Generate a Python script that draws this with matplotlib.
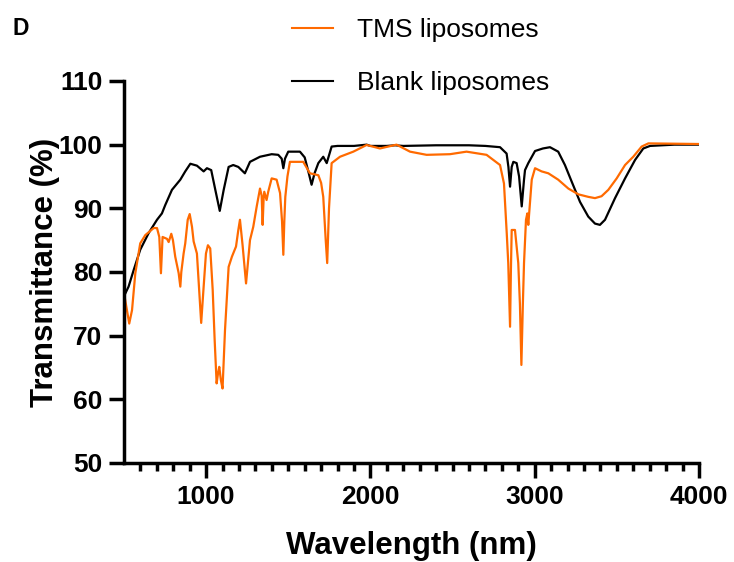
import matplotlib
matplotlib.use('Agg')
import matplotlib.pyplot as plt
from matplotlib.lines import Line2D

# FTIR spectra (wavelength axis as labelled, transmittance %)
blank_x = [500, 504, 528, 559, 599, 650, 701, 731, 751, 792,
           843, 873, 904, 944, 985, 1005, 1031, 1056, 1083, 1107,
           1137, 1165, 1196, 1236, 1267, 1328, 1399, 1439, 1460, 1470,
           1480, 1500, 1571, 1600, 1625, 1642, 1660, 1683, 1713, 1734,
           1764, 1800, 1900, 1977, 2000, 2100, 2150, 2200, 2400, 2600,
           2700, 2789, 2829, 2840, 2850, 2860, 2870, 2890, 2905, 2921,
           2935, 2941, 2961, 3002, 3050, 3093, 3143, 3184, 3225, 3276,
           3326, 3367, 3397, 3428, 3489, 3550, 3611, 3661, 3702, 3850, 4000]
blank_y = [75.5, 76.4, 77.7, 80.3, 83.5, 86.1, 88.2, 89.2, 90.5, 92.9,
           94.5, 95.8, 97.0, 96.7, 95.8, 96.3, 96.0, 92.9, 89.6, 92.9,
           96.5, 96.8, 96.5, 95.5, 97.3, 98.1, 98.5, 98.4, 97.8, 96.3,
           97.8, 98.9, 98.9, 98.0, 95.5, 93.7, 95.5, 97.1, 98.1, 97.1,
           99.7, 99.8, 99.8, 100.0, 99.8, 99.8, 99.9, 99.8, 99.9, 99.9,
           99.8, 99.6, 98.6, 96.5, 93.4, 96.5, 97.3, 97.1, 95.0, 90.3,
           94.5, 96.0, 97.1, 99.0, 99.4, 99.6, 98.9, 96.8, 94.2, 91.0,
           88.7, 87.6, 87.4, 88.2, 91.6, 94.7, 97.6, 99.4, 99.8, 100.0, 100.0]

tms_x = [500, 504, 518, 532, 549, 569, 599, 630, 681, 701,
         715, 725, 735, 762, 772, 788, 798, 812, 833, 843,
         849, 863, 873, 888, 900, 914, 924, 944, 970, 985,
         999, 1011, 1025, 1040, 1052, 1064, 1072, 1080, 1090, 1100,
         1115, 1137, 1157, 1182, 1196, 1206, 1222, 1243, 1267, 1287,
         1308, 1328, 1338, 1344, 1350, 1354, 1368, 1378, 1399, 1429,
         1450, 1462, 1470, 1476, 1482, 1495, 1510, 1591, 1632, 1683,
         1700, 1713, 1728, 1737, 1748, 1764, 1815, 1896, 1977, 2058,
         2159, 2241, 2342, 2484, 2585, 2707, 2748, 2789, 2813, 2830,
         2839, 2850, 2855, 2860, 2880, 2900, 2910, 2919, 2928, 2935,
         2947, 2955, 2961, 2982, 3002, 3042, 3083, 3143, 3205, 3265,
         3326, 3367, 3407, 3448, 3499, 3550, 3600, 3651, 3692, 4000]
tms_y = [76.5, 76.1, 74.0, 71.9, 74.0, 79.8, 84.5, 85.8, 86.9, 86.9,
         85.5, 79.8, 85.5, 85.2, 84.7, 86.0, 85.0, 82.4, 79.8, 77.7,
         80.0, 82.9, 84.5, 88.2, 89.1, 87.1, 84.8, 82.9, 72.0, 77.7,
         82.9, 84.2, 83.7, 77.2, 69.3, 62.5, 64.0, 65.1, 63.0, 61.7,
         70.9, 80.8, 82.4, 84.0, 86.6, 88.2, 84.2, 78.2, 85.0, 87.1,
         90.3, 93.1, 92.0, 87.4, 91.5, 92.6, 91.3, 92.6, 94.7, 94.5,
         92.4, 88.0, 82.7, 88.0, 91.8, 95.0, 97.3, 97.3, 95.5, 95.2,
         94.0, 91.8, 85.0, 81.4, 90.0, 97.1, 98.1, 98.9, 99.95, 99.4,
         100.0, 98.9, 98.4, 98.5, 98.9, 98.4, 97.6, 96.8, 93.9, 86.0,
         81.4, 71.4, 80.0, 86.6, 86.6, 81.4, 75.0, 65.4, 75.0, 81.4,
         88.2, 89.2, 87.4, 94.5, 96.3, 95.8, 95.5, 94.5, 93.1, 92.2,
         91.8, 91.6, 91.9, 92.9, 94.7, 96.8, 98.1, 99.7, 100.2, 100.1]

x_ticks = [1000, 2000, 3000, 4000]
y_ticks = [50, 60, 70, 80, 90, 100, 110]

plt.rcParams['font.family'] = ['Liberation Sans', 'DejaVu Sans']

fig = plt.figure(figsize=(7.34, 5.62), dpi=100)
ax = fig.add_axes([0.1689, 0.1762, 0.7834, 0.6797])

ax.plot(blank_x, blank_y, color='black', lw=1.6)
ax.plot(tms_x, tms_y, color='#ff6a00', lw=1.6)

ax.set_xlim(500, 4000)
ax.set_ylim(50, 110)
ax.set_xticks(x_ticks)
ax.set_xticks(range(600, 4000, 100), minor=True)
ax.set_yticks(y_ticks)

for s in ['top', 'right']:
    ax.spines[s].set_visible(False)
for s in ['left', 'bottom']:
    ax.spines[s].set_linewidth(2.5)

ax.tick_params(which='major', length=10.5, width=2.5, labelsize=19, pad=5)
ax.tick_params(which='minor', length=6, width=2.5)
for lab in ax.get_xticklabels() + ax.get_yticklabels():
    lab.set_fontweight('bold')

ax.set_xlabel('Wavelength (nm)', fontsize=22.5, fontweight='bold')
ax.set_ylabel('Transmittance (%)', fontsize=22.5, fontweight='bold')
ax.xaxis.set_label_coords(0.5, -0.178)
ax.yaxis.set_label_coords(-0.111, 0.5)

handles = [Line2D([], [], color='#ff6a00', lw=1.5),
           Line2D([], [], color='black', lw=1.5)]
fig.legend(handles, ['TMS liposomes', 'Blank liposomes'], loc='upper left',
           bbox_to_anchor=(0.398, 0.968), frameon=False, fontsize=19,
           handlelength=1.55, handletextpad=0.91, labelspacing=1.1,
           borderpad=0, borderaxespad=0)

fig.text(0.017, 0.95, 'D', fontsize=16.5, fontweight='bold', va='center', ha='left')

fig.savefig('out.png', dpi=100)
